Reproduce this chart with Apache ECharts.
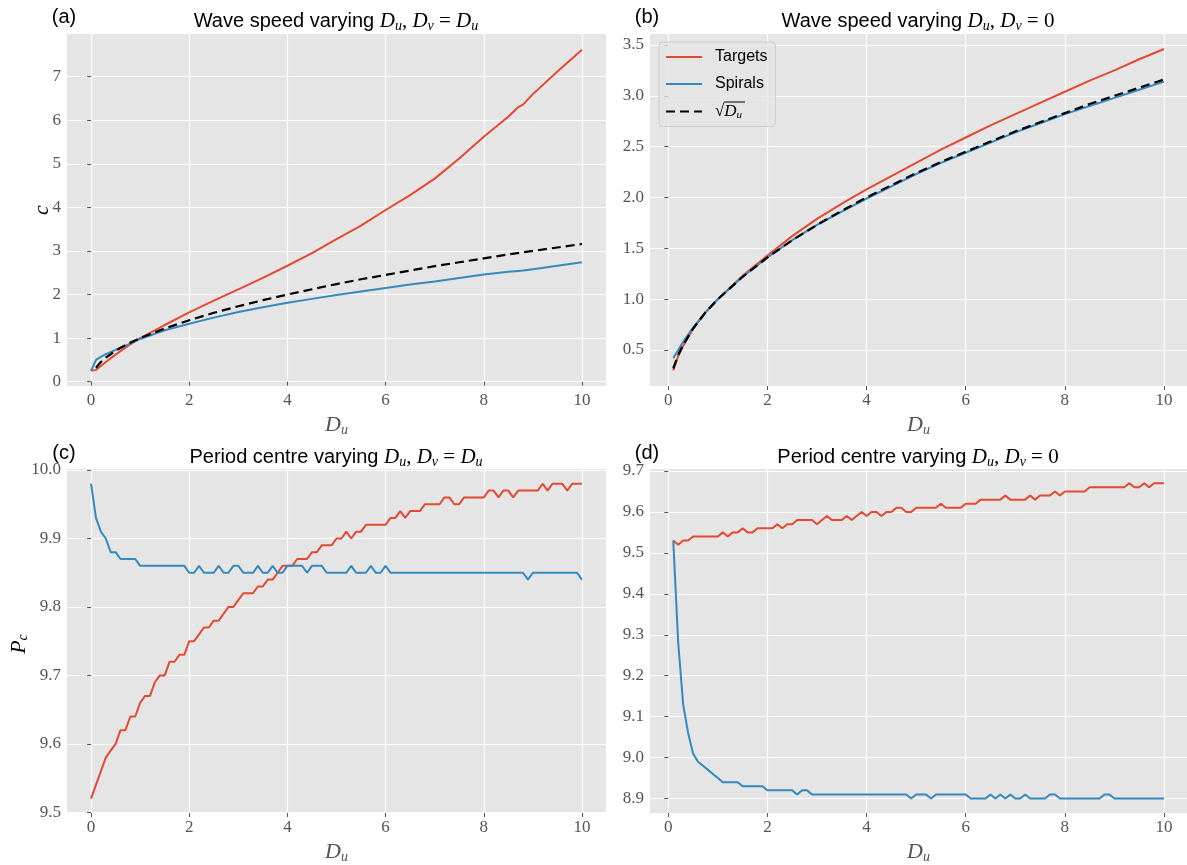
<!DOCTYPE html>
<html>
<head>
<meta charset="utf-8">
<script src="https://cdn.jsdelivr.net/npm/echarts@6/dist/echarts.min.js"></script>
<style>
  html, body { margin: 0; padding: 0; background: #fff; }
  #chart { width: 1187px; height: 865px; }
</style>
</head>
<body>
<div id="chart"></div>
<script>
// ---- data ----
// (a) wave speed, Dv = Du
const aX = [0, 0.1, 0.2, 0.3, 0.5, 0.75, 1, 1.5, 2, 2.5, 3, 3.5, 4, 4.5, 5, 5.5, 6, 6.5, 7, 7.5, 8, 8.5, 8.7, 8.8, 9, 9.5, 10];
const aTargets = [0.25, 0.27, 0.36, 0.45, 0.62, 0.82, 1.0, 1.3, 1.59, 1.86, 2.12, 2.38, 2.66, 2.95, 3.27, 3.58, 3.94, 4.28, 4.66, 5.12, 5.62, 6.08, 6.3, 6.36, 6.6, 7.12, 7.62];
const aSpirals = [0.25, 0.5, 0.57, 0.63, 0.73, 0.85, 0.98, 1.18, 1.33, 1.47, 1.6, 1.71, 1.81, 1.9, 1.99, 2.07, 2.15, 2.23, 2.3, 2.38, 2.46, 2.52, 2.54, 2.55, 2.58, 2.66, 2.74];

// sqrt(Du) reference curve, used in (a) and (b)
const sqrtX = [0.1, 0.2, 0.3, 0.5, 0.75, 1, 1.5, 2, 2.5, 3, 3.5, 4, 4.5, 5, 5.5, 6, 6.5, 7, 7.5, 8, 8.5, 9, 9.5, 10];
const sqrtY = [0.32, 0.45, 0.55, 0.71, 0.87, 1, 1.22, 1.41, 1.58, 1.73, 1.87, 2, 2.12, 2.24, 2.35, 2.45, 2.55, 2.65, 2.74, 2.83, 2.92, 3, 3.08, 3.16];

// (b) wave speed, Dv = 0
const bX = [0.1, 0.2, 0.3, 0.5, 0.75, 1, 1.5, 2, 2.5, 3, 3.5, 4, 4.5, 5, 5.5, 6, 6.5, 7, 7.5, 8, 8.5, 9, 9.5, 10];
const bTargets = [0.3, 0.44, 0.54, 0.71, 0.87, 1.0, 1.23, 1.43, 1.62, 1.79, 1.94, 2.08, 2.21, 2.34, 2.47, 2.59, 2.71, 2.82, 2.93, 3.04, 3.15, 3.25, 3.36, 3.46];
const bSpirals = [0.42, 0.5, 0.58, 0.72, 0.87, 1.0, 1.22, 1.41, 1.58, 1.73, 1.86, 1.99, 2.11, 2.23, 2.34, 2.44, 2.54, 2.64, 2.73, 2.82, 2.9, 2.98, 3.06, 3.14];

// Du samples for the period plots
const pX = [
    0, 0.1, 0.2, 0.3, 0.4, 0.5, 0.6, 0.7, 0.8, 0.9,
    1, 1.1, 1.2, 1.3, 1.4, 1.5, 1.6, 1.7, 1.8, 1.9,
    2, 2.1, 2.2, 2.3, 2.4, 2.5, 2.6, 2.7, 2.8, 2.9,
    3, 3.1, 3.2, 3.3, 3.4, 3.5, 3.6, 3.7, 3.8, 3.9,
    4, 4.1, 4.2, 4.3, 4.4, 4.5, 4.6, 4.7, 4.8, 4.9,
    5, 5.1, 5.2, 5.3, 5.4, 5.5, 5.6, 5.7, 5.8, 5.9,
    6, 6.1, 6.2, 6.3, 6.4, 6.5, 6.6, 6.7, 6.8, 6.9,
    7, 7.1, 7.2, 7.3, 7.4, 7.5, 7.6, 7.7, 7.8, 7.9,
    8, 8.1, 8.2, 8.3, 8.4, 8.5, 8.6, 8.7, 8.8, 8.9,
    9, 9.1, 9.2, 9.3, 9.4, 9.5, 9.6, 9.7, 9.8, 9.9,
    10
];

// (c) period centre, Dv = Du  (Du = 0 .. 10)
const cTargets = [
    9.52, 9.54, 9.56, 9.58, 9.59, 9.60, 9.62, 9.62, 9.64, 9.64,
    9.66, 9.67, 9.67, 9.69, 9.70, 9.70, 9.72, 9.72, 9.73, 9.73,
    9.75, 9.75, 9.76, 9.77, 9.77, 9.78, 9.78, 9.79, 9.80, 9.80,
    9.81, 9.82, 9.82, 9.82, 9.83, 9.83, 9.84, 9.84, 9.85, 9.86,
    9.86, 9.86, 9.87, 9.87, 9.87, 9.88, 9.88, 9.89, 9.89, 9.89,
    9.90, 9.90, 9.91, 9.90, 9.91, 9.91, 9.92, 9.92, 9.92, 9.92,
    9.92, 9.93, 9.93, 9.94, 9.93, 9.94, 9.94, 9.94, 9.95, 9.95,
    9.95, 9.95, 9.96, 9.96, 9.95, 9.95, 9.96, 9.96, 9.96, 9.96,
    9.96, 9.97, 9.97, 9.96, 9.97, 9.97, 9.96, 9.97, 9.97, 9.97,
    9.97, 9.97, 9.98, 9.97, 9.98, 9.98, 9.98, 9.97, 9.98, 9.98,
    9.98
];
const cSpirals = [
    9.98, 9.93, 9.91, 9.90, 9.88, 9.88, 9.87, 9.87, 9.87, 9.87,
    9.86, 9.86, 9.86, 9.86, 9.86, 9.86, 9.86, 9.86, 9.86, 9.86,
    9.85, 9.85, 9.86, 9.85, 9.85, 9.85, 9.86, 9.85, 9.85, 9.86,
    9.86, 9.85, 9.85, 9.85, 9.86, 9.85, 9.85, 9.86, 9.85, 9.85,
    9.86, 9.86, 9.86, 9.86, 9.85, 9.86, 9.86, 9.86, 9.85, 9.85,
    9.85, 9.85, 9.85, 9.86, 9.85, 9.85, 9.85, 9.86, 9.85, 9.85,
    9.86, 9.85, 9.85, 9.85, 9.85, 9.85, 9.85, 9.85, 9.85, 9.85,
    9.85, 9.85, 9.85, 9.85, 9.85, 9.85, 9.85, 9.85, 9.85, 9.85,
    9.85, 9.85, 9.85, 9.85, 9.85, 9.85, 9.85, 9.85, 9.85, 9.84,
    9.85, 9.85, 9.85, 9.85, 9.85, 9.85, 9.85, 9.85, 9.85, 9.85,
    9.84
];

// (d) period centre, Dv = 0  (Du = 0.1 .. 10)
const dTargets = [
    9.53, 9.52, 9.53, 9.53, 9.54, 9.54, 9.54, 9.54, 9.54, 9.54,
    9.55, 9.54, 9.55, 9.55, 9.56, 9.55, 9.55, 9.56, 9.56, 9.56,
    9.56, 9.57, 9.56, 9.57, 9.57, 9.58, 9.58, 9.58, 9.58, 9.57,
    9.58, 9.59, 9.58, 9.58, 9.58, 9.59, 9.58, 9.59, 9.60, 9.59,
    9.60, 9.60, 9.59, 9.60, 9.60, 9.61, 9.61, 9.60, 9.60, 9.61,
    9.61, 9.61, 9.61, 9.61, 9.62, 9.61, 9.61, 9.61, 9.61, 9.62,
    9.62, 9.62, 9.63, 9.63, 9.63, 9.63, 9.63, 9.64, 9.63, 9.63,
    9.63, 9.63, 9.64, 9.63, 9.64, 9.64, 9.64, 9.65, 9.64, 9.65,
    9.65, 9.65, 9.65, 9.65, 9.66, 9.66, 9.66, 9.66, 9.66, 9.66,
    9.66, 9.66, 9.67, 9.66, 9.66, 9.67, 9.66, 9.67, 9.67, 9.67
];
const dSpirals = [
    9.53, 9.28, 9.13, 9.06, 9.01, 8.99, 8.98, 8.97, 8.96, 8.95,
    8.94, 8.94, 8.94, 8.94, 8.93, 8.93, 8.93, 8.93, 8.93, 8.92,
    8.92, 8.92, 8.92, 8.92, 8.92, 8.91, 8.92, 8.92, 8.91, 8.91,
    8.91, 8.91, 8.91, 8.91, 8.91, 8.91, 8.91, 8.91, 8.91, 8.91,
    8.91, 8.91, 8.91, 8.91, 8.91, 8.91, 8.91, 8.91, 8.90, 8.91,
    8.91, 8.91, 8.90, 8.91, 8.91, 8.91, 8.91, 8.91, 8.91, 8.91,
    8.90, 8.90, 8.90, 8.90, 8.91, 8.90, 8.91, 8.90, 8.91, 8.90,
    8.90, 8.91, 8.90, 8.90, 8.90, 8.90, 8.91, 8.91, 8.90, 8.90,
    8.90, 8.90, 8.90, 8.90, 8.90, 8.90, 8.90, 8.91, 8.91, 8.90,
    8.90, 8.90, 8.90, 8.90, 8.90, 8.90, 8.90, 8.90, 8.90, 8.90
];

// tick labels
const xTicks = [0, 2, 4, 6, 8, 10];
const aTicks = [0, 1, 2, 3, 4, 5, 6, 7];
const bTicks = [0.5, 1.0, 1.5, 2.0, 2.5, 3.0, 3.5];
const cTicks = [9.5, 9.6, 9.7, 9.8, 9.9, 10.0];
const dTicks = [8.9, 9.0, 9.1, 9.2, 9.3, 9.4, 9.5, 9.6, 9.7];

const RED = '#E24A33';
const BLUE = '#348ABD';
const SERIF = 'Liberation Serif';
const SANS = 'Liberation Sans';
const GREY = '#555555';

const zip = (xs, ys) => xs.map((x, i) => [x, ys[i]]);

// rich styles for the little bits of maths
const mathRich = (size, color) => ({
    s: { fontFamily: SANS, fontSize: size, color: color },
    m: { fontFamily: SERIF, fontStyle: 'italic', fontSize: size + 1, color: color },
    r: { fontFamily: SERIF, fontSize: size + 1, color: color },
    b: { fontFamily: SERIF, fontStyle: 'italic', fontSize: Math.round(size * 0.68), color: color,
         verticalAlign: 'bottom', padding: [Math.round(size * 0.45), 0, 0, 0] }
});

function xAxisFor(gi, min, max) {
    return {
        type: 'value', gridIndex: gi, min: min, max: max,
        axisLine: { show: false },
        axisTick: { show: true, length: 4, customValues: xTicks, lineStyle: { color: GREY } },
        axisLabel: { customValues: xTicks, color: GREY, fontFamily: SERIF, fontSize: 17, margin: 6 },
        splitLine: { show: true, lineStyle: { color: '#ffffff', width: 1.2 } },
        name: '{m|D}{b|u}', nameLocation: 'middle', nameGap: 28,
        nameTextStyle: { rich: mathRich(21, GREY) }
    };
}

function yAxisFor(gi, min, max, ticks, digits) {
    return {
        type: 'value', gridIndex: gi, min: min, max: max,
        axisLine: { show: false },
        axisTick: { show: true, length: 4, customValues: ticks, lineStyle: { color: GREY } },
        axisLabel: {
            customValues: ticks, color: GREY, fontFamily: SERIF, fontSize: 17, margin: 6,
            formatter: v => v.toFixed(digits)
        },
        splitLine: { show: true, lineStyle: { color: '#ffffff', width: 1.2 } }
    };
}

function line(name, gi, data, color, dashed) {
    return {
        name: name, type: 'line', xAxisIndex: gi, yAxisIndex: gi,
        data: data, symbol: 'none', showSymbol: false, animation: false,
        lineStyle: { width: dashed ? 2.2 : 2, color: color, type: dashed ? [9, 5] : 'solid' },
        itemStyle: { color: color }
    };
}

function titleAt(x, y, text, align) {
    return {
        text: text, left: x, top: y, textAlign: align || 'center', padding: 0,
        textStyle: { fontFamily: SANS, fontSize: 20, fontWeight: 'normal', color: '#000', rich: mathRich(20, '#000') }
    };
}

// rotated y-axis caption placed beside a panel
function yCaption(x, y, text) {
    return {
        type: 'text', x: x, y: y, rotation: Math.PI / 2, z: 50,
        style: { text: text, align: 'center', verticalAlign: 'middle', rich: mathRich(21, GREY) }
    };
}

const SQRT = 'sqrtDu';

const chart = echarts.init(document.getElementById('chart'));
chart.setOption({
    backgroundColor: '#ffffff',
    animation: false,
    title: [
        titleAt(64, 7, '(a)'),
        titleAt(336, 10, '{s|Wave speed varying }{m|D}{b|u}{r|, }{m|D}{b|v}{r| = }{m|D}{b|u}'),
        titleAt(647, 7, '(b)'),
        titleAt(918, 10, '{s|Wave speed varying }{m|D}{b|u}{r|, }{m|D}{b|v}{r| = 0}'),
        titleAt(64, 443, '(c)'),
        titleAt(336, 446, '{s|Period centre varying }{m|D}{b|u}{r|, }{m|D}{b|v}{r| = }{m|D}{b|u}'),
        titleAt(647, 443, '(d)'),
        titleAt(918, 446, '{s|Period centre varying }{m|D}{b|u}{r|, }{m|D}{b|v}{r| = 0}')
    ],
    legend: {
        data: ['Targets', 'Spirals', SQRT],
        orient: 'vertical', left: 659, top: 42,
        itemWidth: 36, itemHeight: 14, itemGap: 11,
        padding: [7, 8, 6, 6],
        backgroundColor: 'rgba(229,229,229,0.8)',
        borderColor: '#cfcfcf', borderWidth: 1, borderRadius: 4,
        selectedMode: false,
        itemStyle: { opacity: 0 },
        formatter: n => n === SQRT ? '{r|√}{m|D}{b|u}' : n,
        textStyle: { fontFamily: SANS, fontSize: 16, color: '#000', padding: [0, 0, 0, 8], rich: mathRich(16, '#000') }
    },
    grid: [
        { left: 67, top: 34, width: 539, height: 352, show: true, backgroundColor: '#E5E5E5', borderWidth: 0 },
        { left: 650, top: 34, right: 0, height: 352, show: true, backgroundColor: '#E5E5E5', borderWidth: 0 },
        { left: 67, top: 469, width: 539, height: 350, show: true, backgroundColor: '#E5E5E5', borderWidth: 0 },
        { left: 650, top: 469, right: 0, height: 350, show: true, backgroundColor: '#E5E5E5', borderWidth: 0 }
    ],
    xAxis: [
        xAxisFor(0, -0.49, 10.49),
        xAxisFor(1, -0.369, 10.464),
        xAxisFor(2, -0.49, 10.49),
        xAxisFor(3, -0.369, 10.464)
    ],
    yAxis: [
        yAxisFor(0, -0.1, 7.98, aTicks, 0),
        yAxisFor(1, 0.146, 3.608, bTicks, 1),
        yAxisFor(2, 9.499, 10.0015, cTicks, 1),
        yAxisFor(3, 8.8647, 9.7048, dTicks, 1)
    ],
    graphic: [
        yCaption(42, 210, '{m|c}'),
        yCaption(19, 644, '{m|P}{b|c}'),
        // overbar of the square root in the legend label
        { type: 'line', shape: { x1: 724, y1: 102, x2: 745, y2: 102 }, style: { stroke: '#000', lineWidth: 1 }, z: 100 }
    ],
    series: [
        line('Targets', 0, zip(aX, aTargets), RED),
        line('Spirals', 0, zip(aX, aSpirals), BLUE),
        line(SQRT, 0, zip(sqrtX, sqrtY), '#000', true),
        line('Targets', 1, zip(bX, bTargets), RED),
        line('Spirals', 1, zip(bX, bSpirals), BLUE),
        line(SQRT, 1, zip(sqrtX, sqrtY), '#000', true),
        line('Targets', 2, zip(pX, cTargets), RED),
        line('Spirals', 2, zip(pX, cSpirals), BLUE),
        line('Targets', 3, zip(pX.slice(1), dTargets), RED),
        line('Spirals', 3, zip(pX.slice(1), dSpirals), BLUE)
    ]
});
</script>
</body>
</html>
